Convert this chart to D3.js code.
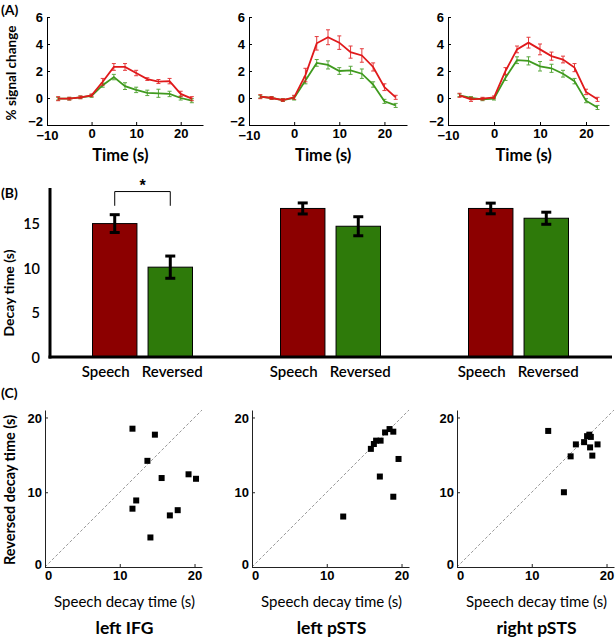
<!DOCTYPE html>
<html>
<head>
<meta charset="utf-8">
<script src="https://cdn.jsdelivr.net/npm/d3@7"></script>
<style>
  body { margin: 0; background: #fff; }
  svg { display: block; }
  .lab { font-family: Lato, "Open Sans", sans-serif; }
  .tk text { font-family: "Liberation Sans", Arial, sans-serif; font-weight: bold; font-size: 13px; fill: #000; }
</style>
</head>
<body>
<svg id="c" width="615" height="637"></svg>
<script>
// ---------- Panel A data ----------
const timePoints = [-7.5, -5, -2.5, 0, 2.5, 5, 7.5, 10, 12.5, 15, 17.5, 20, 22.5];
const regions = ["left IFG", "left pSTS", "right pSTS"];
const speechTC1 = [-0.05, -0.05, 0.05, 0.2, 1.2, 2.3, 2.3, 1.85, 1.4, 1.22, 1.25, 0.3, -0.05];
const reversedTC1 = [-0.05, -0.05, 0.05, 0.15, 0.95, 1.55, 0.88, 0.6, 0.38, 0.35, 0.3, 0.0, -0.2];
const speechTC2 = [0.1, 0.0, -0.15, 0.05, 1.7, 4.05, 4.5, 4.1, 3.4, 3.15, 2.3, 0.8, 0.05];
const reversedTC2 = [0.1, 0.0, -0.15, 0.0, 1.3, 2.6, 2.45, 2.0, 2.05, 1.8, 1.0, -0.25, -0.55];
const speechTC3 = [0.2, -0.1, -0.05, 0.05, 2.0, 3.6, 4.1, 3.6, 3.1, 2.85, 2.25, 0.45, -0.1];
const reversedTC3 = [0.2, 0.0, -0.1, -0.05, 1.5, 2.8, 2.75, 2.35, 2.2, 1.8, 1.25, -0.2, -0.7];
const speechErr1 = [0.15, 0.1, 0.1, 0.1, 0.25, 0.25, 0.25, 0.2, 0.1, 0.15, 0.2, 0.2, 0.15];
const reversedErr1 = [0.1, 0.1, 0.1, 0.1, 0.15, 0.2, 0.25, 0.2, 0.2, 0.3, 0.2, 0.15, 0.15];
const speechErr2 = [0.15, 0.1, 0.1, 0.15, 0.5, 0.5, 0.55, 0.5, 0.45, 0.5, 0.3, 0.25, 0.15];
const reversedErr2 = [0.1, 0.1, 0.1, 0.15, 0.25, 0.25, 0.3, 0.25, 0.3, 0.35, 0.2, 0.15, 0.15];
const speechErr3 = [0.15, 0.15, 0.1, 0.1, 0.25, 0.25, 0.4, 0.4, 0.3, 0.25, 0.3, 0.2, 0.15];
const reversedErr3 = [0.1, 0.1, 0.1, 0.1, 0.2, 0.25, 0.3, 0.35, 0.3, 0.25, 0.2, 0.15, 0.15];
const tcXTicks = [-10, 0, 10, 20];
const tcYTicks = [-2, 0, 2, 4, 6];

// ---------- Panel B data ----------
const conditions = ["Speech", "Reversed"];
const decaySpeech = [15.0, 16.7, 16.7];
const decayReversed = [10.1, 14.7, 15.6];
const decaySpeechErr = [1.0, 0.62, 0.6];
const decayReversedErr = [1.25, 1.07, 0.68];
const decayTicks = [0, 5, 10, 15];

// ---------- Panel C data ----------
const scatterSpeech1 = [11.7, 14.7, 13.7, 15.6, 19.2, 20.2, 12.2, 11.7, 16.7, 17.75, 14.1];
const scatterReversed1 = [18.5, 17.7, 14.2, 11.9, 12.4, 11.8, 8.9, 7.8, 6.9, 7.6, 3.95];
const scatterSpeech2 = [15.9, 16.3, 16.6, 17.2, 17.8, 18.4, 18.9, 19.6, 17.1, 12.2, 18.9];
const scatterReversed2 = [15.8, 16.45, 16.9, 16.9, 18.0, 18.45, 18.1, 14.45, 12.1, 6.75, 9.4];
const scatterSpeech3 = [12.2, 14.3, 15.2, 15.9, 17.0, 17.4, 17.7, 17.8, 18.1, 18.8, 17.9];
const scatterReversed3 = [18.2, 10.0, 14.8, 16.4, 16.7, 17.5, 17.7, 16.0, 14.9, 16.4, 17.4];
const scatterTicks = [0, 10, 20];

const svg = d3.select("#c");
const RED = "#e0191b", GREEN = "#3f9a1e";
const BAR_RED = "#8c0000", BAR_GREEN = "#2e7a0a";

// ================= Panel A =================
const tcSets = [
  {s: speechTC1, r: reversedTC1, se: speechErr1, re: reversedErr1, left: 47, width: 156},
  {s: speechTC2, r: reversedTC2, se: speechErr2, re: reversedErr2, left: 249, width: 158},
  {s: speechTC3, r: reversedTC3, se: speechErr3, re: reversedErr3, left: 448, width: 161}
];
const aTop = 17, aBot = 125;
tcSets.forEach((p, i) => {
  const x = d3.scaleLinear().domain([-10, 25]).range([p.left, p.left + p.width]);
  const y = d3.scaleLinear().domain([-2, 6]).range([aBot, aTop]);
  const g = svg.append("g");
  const ax = g.append("g").attr("class", "tk").attr("transform", `translate(0,${aBot})`)
    .call(d3.axisBottom(x).tickValues(tcXTicks).tickSizeInner(-3).tickSizeOuter(0).tickPadding(4));
  const ay = g.append("g").attr("class", "tk").attr("transform", `translate(${p.left},0)`)
    .call(d3.axisLeft(y).tickValues(tcYTicks).tickSizeInner(-3).tickSizeOuter(0).tickPadding(4));
  [ax, ay].forEach(a => { a.select(".domain").attr("stroke", "#000").attr("stroke-width", 1);
    a.selectAll(".tick line").attr("stroke", "#000"); });
  ay.selectAll(".tick text").attr("dy", d => d === -2 ? "0.05em" : "0.36em");
  ax.selectAll(".tick text").attr("dy", d => d === -10 ? "0.85em" : "0.71em");
  const line = d3.line().x((d, k) => x(timePoints[k])).y(d => y(d));
  [[p.r, p.re, GREEN], [p.s, p.se, RED]].forEach(([vals, errs, col]) => {
    g.append("path").datum(vals).attr("d", line).attr("fill", "none")
      .attr("stroke", col).attr("stroke-width", 1.8);
    const eb = g.append("g").attr("stroke", col).attr("stroke-width", 1).attr("opacity", 0.85);
    vals.forEach((v, k) => {
      const cx = x(timePoints[k]), y1 = y(v - errs[k]), y2 = y(v + errs[k]);
      eb.append("line").attr("x1", cx).attr("x2", cx).attr("y1", y1).attr("y2", y2);
      eb.append("line").attr("x1", cx - 2).attr("x2", cx + 2).attr("y1", y1).attr("y2", y1);
      eb.append("line").attr("x1", cx - 2).attr("x2", cx + 2).attr("y1", y2).attr("y2", y2);
    });
  });
  g.append("text").attr("class", "lab").attr("x", p.left + p.width * 0.47).attr("y", 161)
    .attr("text-anchor", "middle").attr("font-weight", "bold").attr("font-size", 16.5).text("Time (s)");
});
svg.append("text").attr("class", "lab").attr("transform", "translate(16,73) rotate(-90)")
  .attr("text-anchor", "middle").attr("font-weight", "bold").attr("font-size", 13.5).text("% signal change");
svg.append("text").attr("class", "lab").attr("x", 1).attr("y", 15)
  .attr("font-weight", "bold").attr("font-size", 14).text("(A)");

// ================= Panel B =================
const bBase = 357;
const yB = d3.scaleLinear().domain([0, 19]).range([bBase, 188]);
const xG = d3.scaleBand().domain(regions).range([48.5, 612.5]);
const xC = d3.scaleBand().domain(conditions).range([44, 144]).paddingInner(0.2);
const labelShift = {Speech: -9, Reversed: 2};
const gB = svg.append("g");
regions.forEach((reg, i) => {
  const vals = [decaySpeech[i], decayReversed[i]];
  const errs = [decaySpeechErr[i], decayReversedErr[i]];
  conditions.forEach((c, k) => {
    const bx = xG(reg) + xC(c), bw = xC.bandwidth();
    gB.append("rect").attr("x", bx).attr("y", yB(vals[k])).attr("width", bw)
      .attr("height", bBase - yB(vals[k])).attr("fill", k === 0 ? BAR_RED : BAR_GREEN)
      .attr("stroke", "#000").attr("stroke-width", 1);
    const cx = bx + bw / 2, y1 = yB(vals[k] - errs[k]), y2 = yB(vals[k] + errs[k]);
    const eg = gB.append("g").attr("stroke", "#000").attr("stroke-width", 3);
    eg.append("line").attr("x1", cx).attr("x2", cx).attr("y1", y1).attr("y2", y2);
    eg.append("line").attr("x1", cx - 5).attr("x2", cx + 5).attr("y1", y1).attr("y2", y1);
    eg.append("line").attr("x1", cx - 5).attr("x2", cx + 5).attr("y1", y2).attr("y2", y2);
    gB.append("text").attr("class", "lab").attr("x", cx + labelShift[c]).attr("y", 377)
      .attr("text-anchor", "middle").attr("font-size", 15).attr("font-weight", 600).text(c);
  });
});
// significance bracket
{
  const x1 = xG(regions[0]) + xC("Speech") + xC.bandwidth() / 2;
  const x2 = xG(regions[0]) + xC("Reversed") + xC.bandwidth() / 2;
  const yT = yB(18.6), yE = yB(17.0);
  gB.append("path").attr("d", `M${x1},${yE}V${yT}H${x2}V${yE}`).attr("fill", "none")
    .attr("stroke", "#000").attr("stroke-width", 1);
  gB.append("text").attr("x", (x1 + x2) / 2).attr("y", yT - 1).attr("text-anchor", "middle")
    .attr("font-family", "Liberation Sans, Arial, sans-serif").attr("font-weight", "bold")
    .attr("font-size", 16).text("*");
}
const ayB = gB.append("g").attr("transform", "translate(50,0)")
  .call(d3.axisLeft(yB).tickValues(decayTicks).tickSize(0).tickPadding(10));
ayB.select(".domain").remove();
ayB.selectAll(".tick text").attr("class", "lab").attr("font-size", 14.5).attr("font-weight", 600)
  .attr("fill", "#000").attr("dy", "0.36em");
gB.append("line").attr("x1", 50).attr("x2", 50).attr("y1", 188).attr("y2", bBase + 1.5)
  .attr("stroke", "#000").attr("stroke-width", 3);
gB.append("line").attr("x1", 48.5).attr("x2", 612).attr("y1", bBase).attr("y2", bBase)
  .attr("stroke", "#000").attr("stroke-width", 3);
svg.append("text").attr("class", "lab").attr("transform", "translate(14,293) rotate(-90)")
  .attr("text-anchor", "middle").attr("font-weight", "bold").attr("font-size", 14).text("Decay time (s)");
svg.append("text").attr("class", "lab").attr("x", 1).attr("y", 198)
  .attr("font-weight", "bold").attr("font-size", 14).text("(B)");

// ================= Panel C =================
const scSets = [
  {xs: scatterSpeech1, ys: scatterReversed1, left: 45},
  {xs: scatterSpeech2, ys: scatterReversed2, left: 252},
  {xs: scatterSpeech3, ys: scatterReversed3, left: 457}
];
const cTop = 410, cBot = 567, cW = 157;
scSets.forEach((p, i) => {
  const x = d3.scaleLinear().domain([0, 21]).range([p.left, p.left + cW]);
  const y = d3.scaleLinear().domain([0, 21]).range([cBot, cTop]);
  const g = svg.append("g");
  g.append("line").attr("x1", x(0)).attr("y1", y(0)).attr("x2", x(21)).attr("y2", y(21))
    .attr("stroke", "#999").attr("stroke-width", 1).attr("stroke-dasharray", "3,2");
  const ax = g.append("g").attr("class", "tk").attr("transform", `translate(0,${cBot})`)
    .call(d3.axisBottom(x).tickValues(scatterTicks).tickSizeInner(-3).tickSizeOuter(0).tickPadding(4));
  const ay = g.append("g").attr("class", "tk").attr("transform", `translate(${p.left},0)`)
    .call(d3.axisLeft(y).tickValues(scatterTicks).tickSizeInner(-3).tickSizeOuter(0).tickPadding(3));
  [ax, ay].forEach(a => { a.select(".domain").attr("stroke", "#222").attr("stroke-width", 1);
    a.selectAll(".tick line").attr("stroke", "#222"); a.selectAll(".tick text").attr("font-size", 14); });
  ay.selectAll(".tick text").attr("dy", d => d === 0 ? "0.15em" : "0.36em");
  ax.selectAll(".tick text").filter(d => d === 0).attr("dx", 3);
  g.selectAll("rect.pt").data(p.xs.map((v, k) => [v, p.ys[k]])).enter().append("rect")
    .attr("class", "pt").attr("x", d => x(d[0]) - 3).attr("y", d => y(d[1]) - 3)
    .attr("width", 6).attr("height", 6).attr("fill", "#000");
  g.append("text").attr("class", "lab").attr("x", p.left + cW / 2 + 1).attr("y", 607)
    .attr("text-anchor", "middle").attr("font-size", 15).text("Speech decay time (s)");
  g.append("text").attr("class", "lab").attr("x", p.left + cW / 2 + 1).attr("y", 634)
    .attr("text-anchor", "middle").attr("font-size", 17.5).attr("font-weight", "bold").text(regions[i]);
});
svg.append("text").attr("class", "lab").attr("transform", "translate(15,490) rotate(-90)")
  .attr("text-anchor", "middle").attr("font-weight", "bold").attr("font-size", 14.5).text("Reversed decay time (s)");
svg.append("text").attr("class", "lab").attr("x", 1).attr("y", 398)
  .attr("font-weight", "bold").attr("font-size", 14).text("(C)");
</script>
</body>
</html>
